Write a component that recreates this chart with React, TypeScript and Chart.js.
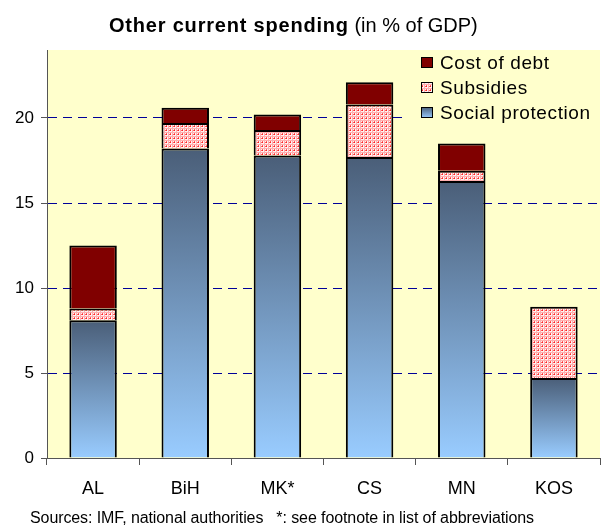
import React, { useEffect, useRef } from "react";
import { Chart, registerables } from "chart.js";

Chart.register(...registerables);

const categories = ["AL", "BiH", "MK*", "CS", "MN", "KOS"];
const socialProtection = [8.1, 18.2, 17.8, 17.7, 16.3, 4.7];
const subsidies = [0.7, 1.5, 1.5, 3.1, 0.6, 4.2];
const costOfDebt = [3.7, 0.9, 0.9, 1.3, 1.6, 0];
const yTickValues = [0, 5, 10, 15, 20];
const yMax = 24;
const legendLabels = ["Cost of debt", "Subsidies", "Social protection"];
const titleBold = "Other current spending";
const titleNormal = " (in % of GDP)";
const footerText = "Sources: IMF, national authorities   *: see footnote in list of abbreviations";

const FONT = '"Liberation Sans", Arial, sans-serif';

function makePattern(ctx: CanvasRenderingContext2D): CanvasPattern | string {
  const c = document.createElement("canvas");
  c.width = 4;
  c.height = 4;
  const p = c.getContext("2d");
  if (!p) return "#FF9999";
  p.fillStyle = "#FFF2F2";
  p.fillRect(0, 0, 4, 4);
  p.fillStyle = "#FFB0B0";
  p.fillRect(0, 0, 4, 1);
  p.fillRect(0, 0, 1, 4);
  p.fillStyle = "#FF2020";
  p.fillRect(2, 2, 1, 1);
  p.fillStyle = "#FF6060";
  p.fillRect(1, 2, 1, 1);
  p.fillRect(2, 1, 1, 1);
  return ctx.createPattern(c, "repeat") || "#FF9999";
}

const TOP_BLUE = "#4A5E78";
const BOTTOM_BLUE = "#99CCFF";

export default function App() {
  const ref = useRef<HTMLCanvasElement | null>(null);

  useEffect(() => {
    const canvas = ref.current;
    if (!canvas) return;
    const c2d = canvas.getContext("2d")!;
    const pattern = makePattern(c2d);

    const socialBg = (ctx: any) => {
      const chart = ctx.chart;
      const area = chart.chartArea;
      const y = chart.scales?.y;
      if (!area || !y || ctx.type !== "data") return "#7BA3CC";
      const v = socialProtection[ctx.dataIndex];
      const top = y.getPixelForValue(v);
      const bottom = y.getPixelForValue(0);
      const g = chart.ctx.createLinearGradient(0, top, 0, bottom);
      g.addColorStop(0, TOP_BLUE);
      g.addColorStop(1, BOTTOM_BLUE);
      return g;
    };

    const bgPlugin = {
      id: "bgPlugin",
      beforeDraw(chart: any) {
        const ctx = chart.ctx;
        const a = chart.chartArea;
        ctx.save();
        ctx.fillStyle = "#FFFFFF";
        ctx.fillRect(0, 0, chart.width, chart.height);
        ctx.fillStyle = "#FFFFCC";
        ctx.fillRect(a.left, a.top, a.right - a.left, a.bottom - a.top);
        ctx.restore();
      },
      beforeDatasetsDraw(chart: any) {
        // legend backdrop covering grid lines
        const ctx = chart.ctx;
        const a = chart.chartArea;
        ctx.save();
        ctx.fillStyle = "#FFFFCC";
        ctx.fillRect(408, a.top, a.right - 408, 78);
        ctx.restore();
      },
      afterDraw(chart: any) {
        const ctx = chart.ctx;
        ctx.save();
        // Title
        ctx.fillStyle = "#000";
        ctx.textBaseline = "alphabetic";
        ctx.textAlign = "left";
        ctx.font = `bold 20px ${FONT}`;
        (ctx as any).letterSpacing = "0.8px";
        const wb = ctx.measureText(titleBold).width;
        ctx.fillText(titleBold, 109, 32);
        (ctx as any).letterSpacing = "0px";
        ctx.font = `20px ${FONT}`;
        ctx.fillText(titleNormal, 109 + wb, 32);

        // Legend
        const boxX = 421;
        const rows = [62.5, 87.5, 112.5];
        const fills: any[] = ["#800000", pattern, null];
        ctx.font = `19px ${FONT}`;
        (ctx as any).letterSpacing = "0.6px";
        ctx.textBaseline = "middle";
        rows.forEach((cy, i) => {
          const bx = boxX;
          const by = cy - 5.5;
          let fill = fills[i];
          if (fill === null) {
            const g = ctx.createLinearGradient(0, by, 0, by + 11);
            g.addColorStop(0, TOP_BLUE);
            g.addColorStop(1, BOTTOM_BLUE);
            fill = g;
          }
          ctx.fillStyle = fill;
          ctx.fillRect(bx, by, 12, 11);
          ctx.strokeStyle = "#000";
          ctx.lineWidth = 1;
          ctx.strokeRect(bx + 0.5, by + 0.5, 11, 10);
          ctx.fillStyle = "#000";
          ctx.fillText(legendLabels[i], 440, cy + 1);
        });

        // Footer, fitted to the reference width
        ctx.font = `16px ${FONT}`;
        (ctx as any).letterSpacing = "0px";
        const fw = ctx.measureText(footerText).width;
        const ls = (504 - fw) / footerText.length;
        (ctx as any).letterSpacing = `${ls}px`;
        ctx.textBaseline = "alphabetic";
        ctx.fillText(footerText, 30, 523);
        ctx.restore();
      },
    };

    const chart = new Chart(canvas, {
      type: "bar",
      data: {
        labels: categories,
        datasets: [
          {
            label: "Social protection",
            data: socialProtection,
            backgroundColor: socialBg as any,
            borderColor: "#000",
            borderWidth: 2,
          },
          {
            label: "Subsidies",
            data: subsidies,
            backgroundColor: pattern as any,
            borderColor: "#000",
            borderWidth: 2,
          },
          {
            label: "Cost of debt",
            data: costOfDebt,
            backgroundColor: "#800000",
            borderColor: "#000",
            borderWidth: 2,
          },
        ],
      },
      options: {
        responsive: false,
        animation: false,
        devicePixelRatio: 1,
        layout: { padding: { top: 50, right: 1, left: 0, bottom: 0 } },
        datasets: {
          bar: { categoryPercentage: 1, barPercentage: 0.515 },
        },
        plugins: {
          legend: { display: false },
          title: { display: false },
          tooltip: { enabled: false },
        },
        scales: {
          x: {
            stacked: true,
            grid: {
              offset: true,
              drawOnChartArea: false,
              color: "#555",
              tickLength: 7,
            },
            border: { color: "#555", width: 1 },
            ticks: {
              color: "#000",
              font: { family: FONT, size: 18 },
              padding: 13,
            },
            afterFit(scale: any) {
              scale.height = 67;
            },
          },
          y: {
            stacked: true,
            min: 0,
            max: yMax,
            afterBuildTicks(scale: any) {
              scale.ticks = yTickValues.map((v) => ({ value: v }));
            },
            grid: {
              color: (ctx: any) =>
                ctx.tick && ctx.tick.value === 0 ? "rgba(0,0,0,0)" : "#000099",
              tickColor: "#555",
              tickLength: 6,
              lineWidth: 1,
            },
            border: { color: "#555", width: 1, dash: [9, 6] },
            ticks: {
              color: "#000",
              font: { family: FONT, size: 17 },
              padding: 7,
            },
            afterFit(scale: any) {
              scale.width = 47;
            },
          },
        },
      },
      plugins: [bgPlugin],
    });

    return () => chart.destroy();
  }, []);

  return (
    <div style={{ position: "absolute", left: 0, top: 0, width: 601, height: 525 }}>
      <canvas ref={ref} width={601} height={525} style={{ display: "block" }} />
    </div>
  );
}
